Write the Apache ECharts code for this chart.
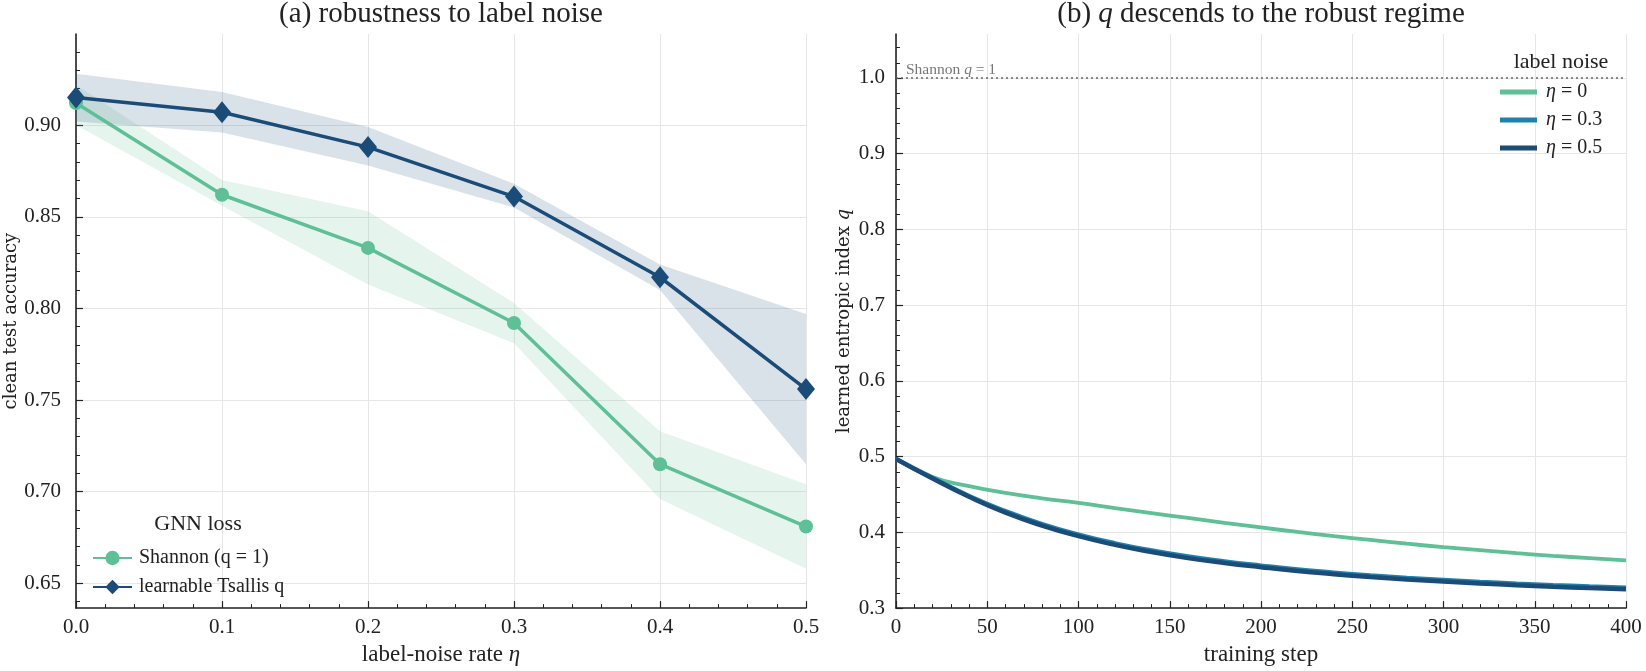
<!DOCTYPE html>
<html>
<head>
<meta charset="utf-8">
<script src="https://cdn.jsdelivr.net/npm/echarts@6/dist/echarts.min.js"></script>
<style>
  html, body { margin: 0; background: #fff; }
  #chart { width: 1646px; height: 671px; }
</style>
</head>
<body>
<div id="chart"></div>
<script>
// panel (a): accuracy vs label noise
const noiseRates = [0, 0.1, 0.2, 0.3, 0.4, 0.5];
const shannonMean = [0.912, 0.862, 0.833, 0.792, 0.715, 0.681];
const shannonLo = [0.900, 0.856, 0.813, 0.781, 0.696, 0.658];
const shannonHi = [0.922, 0.870, 0.853, 0.803, 0.733, 0.704];
const tsallisMean = [0.915, 0.907, 0.888, 0.861, 0.817, 0.756];
const tsallisLo = [0.902, 0.896, 0.878, 0.855, 0.810, 0.715];
const tsallisHi = [0.928, 0.918, 0.899, 0.868, 0.824, 0.797];
const accTicks = [0.65, 0.70, 0.75, 0.80, 0.85, 0.90];

// panel (b): learned q over training
const steps = [0, 20, 40, 60, 80, 100, 120, 140, 160, 180, 200, 220, 240, 260, 280, 300, 320, 340, 360, 380, 400];
const qNoise0 = [0.497, 0.473, 0.461, 0.452, 0.445, 0.439, 0.432, 0.4255, 0.419, 0.4125, 0.4065, 0.4005, 0.395, 0.390, 0.385, 0.3805, 0.3765, 0.3725, 0.369, 0.366, 0.363];
const qNoise03 = [0.497, 0.472, 0.448, 0.428, 0.411, 0.397, 0.3855, 0.376, 0.368, 0.3615, 0.356, 0.351, 0.3468, 0.343, 0.3398, 0.337, 0.3345, 0.3323, 0.3303, 0.3285, 0.327];
const qNoise05 = [0.497, 0.471, 0.447, 0.426, 0.409, 0.395, 0.3835, 0.374, 0.366, 0.3595, 0.354, 0.349, 0.3448, 0.341, 0.3378, 0.335, 0.3325, 0.3303, 0.3283, 0.3265, 0.325];
const qTicks = [0.3, 0.4, 0.5, 0.6, 0.7, 0.8, 0.9, 1.0];

const GREEN = '#5fbf96';
const MID = '#1f82ad';
const DARK = '#1b4b77';
const SERIF = 'Liberation Serif';
const INK = '#222';

function minorValues(from, to, step, majors) {
  const out = [];
  for (let v = from; v <= to + 1e-9; v += step) {
    const r = Math.round(v * 1000) / 1000;
    if (!majors.some(m => Math.abs(m - r) < 1e-6)) out.push(r);
  }
  return out;
}

const pairs = (xs, ys) => xs.map((x, i) => [x, ys[i]]);

function xAxisCfg(grid, min, max, interval, name, digits) {
  return {
    gridIndex: grid, type: 'value', min, max, interval,
    name, nameLocation: 'middle', nameGap: 30,
    nameTextStyle: { fontFamily: SERIF, fontSize: 23, color: INK, rich: { i: { fontStyle: 'italic', fontFamily: SERIF, fontSize: 23, color: INK } } },
    axisLine: { show: true, lineStyle: { color: INK, width: 1.6 } },
    axisTick: { show: true, inside: true, length: 7, lineStyle: { color: INK, width: 1.2 } },
    minorTick: { show: true, splitNumber: 5, length: 4, lineStyle: { color: INK, width: 1 } },
    axisLabel: { fontFamily: SERIF, fontSize: 21, color: INK, margin: 9,
      formatter: v => digits ? v.toFixed(digits) : String(v) },
    splitLine: { show: true, lineStyle: { color: '#e6e6e6', width: 1 } }
  };
}

function yAxisCfg(grid, min, max, ticks, name, nameGap, digits, margin) {
  return {
    gridIndex: grid, type: 'value', min, max,
    name, nameLocation: 'middle', nameGap,
    nameTextStyle: { fontFamily: 'DejaVu Serif', fontSize: 18, color: INK, rich: { i: { fontStyle: 'italic', fontFamily: 'DejaVu Serif', fontSize: 18, color: INK } } },
    axisLine: { show: true, lineStyle: { color: INK, width: 1.6 } },
    axisTick: { show: true, inside: true, length: 7, customValues: ticks, lineStyle: { color: INK, width: 1.2 } },
    axisLabel: { fontFamily: SERIF, fontSize: 21, color: INK, margin, customValues: ticks,
      formatter: v => v.toFixed(digits) },
    splitLine: { show: true, customValues: ticks, lineStyle: { color: '#e6e6e6', width: 1 } }
  };
}

function yMinorCfg(grid, min, max, ticks) {
  return {
    gridIndex: grid, type: 'value', min, max, position: 'left',
    axisLine: { show: false },
    axisTick: { show: true, inside: true, length: 4, customValues: ticks, lineStyle: { color: INK, width: 1 } },
    axisLabel: { show: false },
    splitLine: { show: false }
  };
}

function bandSeries(lo, hi, fill) {
  return {
    type: 'custom', xAxisIndex: 0, yAxisIndex: 0, silent: true, z: 1,
    data: noiseRates.map((x, i) => [x, lo[i], hi[i]]),
    renderItem: (params, api) => {
      if (params.dataIndex !== 0) return;
      const upper = noiseRates.map((x, i) => api.coord([x, hi[i]]));
      const lower = noiseRates.map((x, i) => api.coord([x, lo[i]])).reverse();
      return { type: 'polygon', shape: { points: upper.concat(lower) }, style: { fill } };
    }
  };
}

const accMin = 0.6365, accMax = 0.9497;
const qMin = 0.3, qMax = 1.058;

const chart = echarts.init(document.getElementById('chart'));

const titleText = size => ({ fontFamily: SERIF, fontSize: size, fontWeight: 'normal', color: INK,
  rich: { i: { fontStyle: 'italic', fontFamily: SERIF, fontSize: size, color: INK } } });

const option = {
  backgroundColor: '#fff',
  animation: false,
  title: [
    { text: '(a) robustness to label noise', left: 441, top: 0, padding: 0, textAlign: 'center', textStyle: titleText(29) },
    { text: '(b) {i|q} descends to the robust regime', left: 1261, top: 0, padding: 0, textAlign: 'center', textStyle: titleText(29) },
    { text: 'GNN loss', left: 198, top: 513, padding: 0, textAlign: 'center', textStyle: titleText(22) },
    { text: 'label noise', left: 1561, top: 51, padding: 0, textAlign: 'center', textStyle: titleText(22) }
  ],
  legend: [
    { data: ['Shannon (q = 1)', 'learnable Tsallis q'], left: 92, top: 548, padding: 0, orient: 'vertical',
      itemWidth: 39, itemHeight: 18, itemGap: 9,
      textStyle: { fontFamily: SERIF, fontSize: 20, color: INK, lineHeight: 20, padding: [0, 0, 0, 2] } },
    { data: ['eta0', 'eta03', 'eta05'], left: 1500, top: 82, padding: 0, orient: 'vertical',
      icon: 'rect', itemWidth: 37, itemHeight: 5, itemGap: 8,
      formatter: n => ({ eta0: '{i|η} = 0', eta03: '{i|η} = 0.3', eta05: '{i|η} = 0.5' })[n],
      textStyle: { fontFamily: SERIF, fontSize: 20, color: INK, lineHeight: 20, padding: [0, 0, 0, 4],
        rich: { i: { fontStyle: 'italic', fontFamily: SERIF, fontSize: 20, color: INK } } } }
  ],
  grid: [
    { left: 76, top: 34, width: 730, height: 578 },
    { left: 896, top: 34, width: 730, height: 578 }
  ],
  xAxis: [
    xAxisCfg(0, 0, 0.5, 0.1, 'label-noise rate {i|η}', 1),
    xAxisCfg(1, 0, 400, 50, 'training step', 0)
  ],
  yAxis: [
    yAxisCfg(0, accMin, accMax, accTicks, 'clean test accuracy', 55, 2, 15),
    yMinorCfg(0, accMin, accMax, minorValues(0.64, 0.94, 0.01, accTicks)),
    yAxisCfg(1, qMin, qMax, qTicks, 'learned entropic index {i|q}', 43, 1, 11),
    yMinorCfg(1, qMin, qMax, minorValues(0.32, 1.04, 0.02, qTicks))
  ],
  series: [
    bandSeries(shannonLo, shannonHi, 'rgba(95,191,150,0.16)'),
    bandSeries(tsallisLo, tsallisHi, 'rgba(27,75,119,0.16)'),
    { name: 'Shannon (q = 1)', type: 'line', xAxisIndex: 0, yAxisIndex: 0, symbol: 'circle', symbolSize: 14,
      color: GREEN, lineStyle: { color: GREEN, width: 3.5 }, itemStyle: { color: GREEN }, z: 3,
      data: pairs(noiseRates, shannonMean) },
    { name: 'learnable Tsallis q', type: 'line', xAxisIndex: 0, yAxisIndex: 0, symbol: 'diamond', symbolSize: [18, 22],
      color: DARK, lineStyle: { color: DARK, width: 3.5 }, itemStyle: { color: DARK }, z: 4,
      data: pairs(noiseRates, tsallisMean) },
    { name: 'eta0', type: 'line', xAxisIndex: 1, yAxisIndex: 2, showSymbol: false, symbol: 'none', smooth: 0.5,
      color: GREEN, lineStyle: { color: GREEN, width: 3.8 }, z: 3,
      data: pairs(steps, qNoise0),
      markLine: { silent: true, symbol: 'none', data: [{ yAxis: 1.0 }],
        lineStyle: { color: '#666', type: [2, 3], width: 1.6 },
        label: { show: true, position: 'insideStartTop', distance: [10, 0], formatter: 'Shannon {i|q} = 1',
          fontFamily: SERIF, fontSize: 15.5, color: '#777',
          rich: { i: { fontStyle: 'italic', fontFamily: SERIF, fontSize: 15.5, color: '#777' } } } } },
    { name: 'eta03', type: 'line', xAxisIndex: 1, yAxisIndex: 2, showSymbol: false, symbol: 'none', smooth: 0.5,
      color: MID, lineStyle: { color: MID, width: 4.5 }, z: 4,
      data: pairs(steps, qNoise03) },
    { name: 'eta05', type: 'line', xAxisIndex: 1, yAxisIndex: 2, showSymbol: false, symbol: 'none', smooth: 0.5,
      color: DARK, lineStyle: { color: DARK, width: 4.5 }, z: 5,
      data: pairs(steps, qNoise05) }
  ]
};

chart.setOption(option);
window.addEventListener('resize', () => chart.resize());
</script>
</body>
</html>
